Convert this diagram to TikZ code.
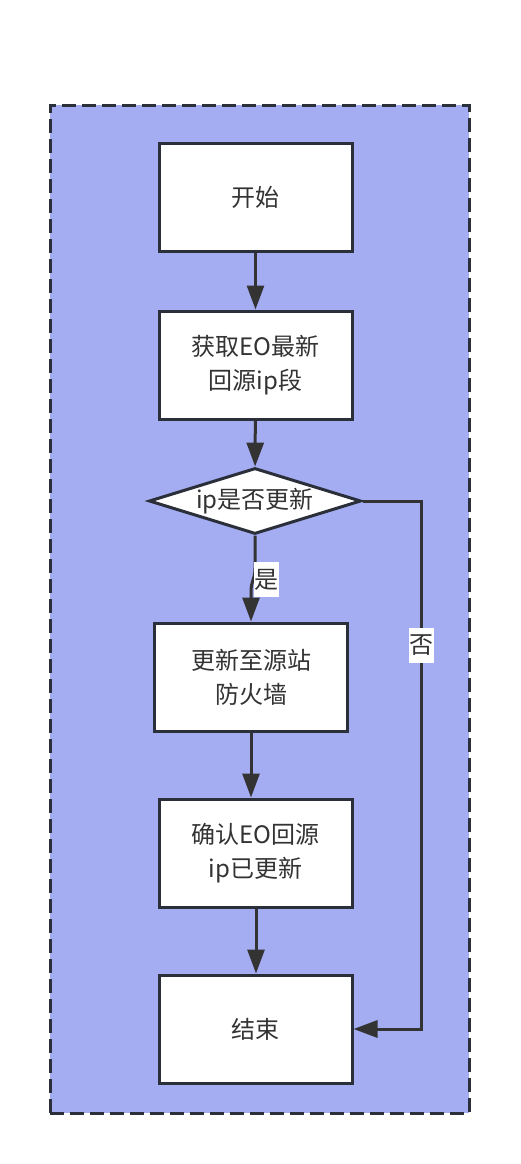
\documentclass[tikz,border=0pt]{standalone}
\usepackage{fontspec}
\setmainfont{Noto Sans CJK SC}
\usetikzlibrary{arrows.meta,shapes.geometric}
\definecolor{clfill}{RGB}{164,173,242}
\definecolor{clline}{RGB}{43,47,58}
\definecolor{ink}{RGB}{51,51,51}
\tikzset{
  stepbox/.style={draw=clline, line width=3pt, fill=white, minimum width=193pt, minimum height=108pt, inner sep=0pt, align=center, text=ink, font=\fontsize{24}{34}\selectfont},
  decbox/.style={diamond, draw=clline, line width=3pt, fill=white, minimum width=212pt, minimum height=66pt, inner sep=0pt},
  flow/.style={draw=ink, line width=3pt, -{Triangle[length=24pt,width=17pt]}},
  edgelabel/.style={fill=white, text=ink, inner sep=0pt, minimum width=25pt, minimum height=35pt, font=\fontsize{24}{34}\selectfont},
}
\begin{document}
\begin{tikzpicture}[x=1pt,y=-1pt]
\useasboundingbox (0,0) rectangle (520,1164);
\node[draw=clline, fill=clfill, line width=3pt, dash pattern=on 14pt off 6pt, minimum width=419pt, minimum height=1008pt, inner sep=0pt] (frame) at (259.5,609) {};
\node[stepbox] (s) at (255.5,197) {开始};
\node[stepbox] (a) at (255.5,365) {获取EO最新\\回源ip段};
\node[decbox, label={[text=ink, font=\fontsize{24}{34}\selectfont]center:ip是否更新}] (d) at (255,501) {};
\node[stepbox] (u) at (251,677) {更新至源站\\防火墙};
\node[stepbox] (c) at (255.5,853) {确认EO回源\\ip已更新};
\node[stepbox] (e) at (255.5,1029) {结束};
\coordinate (b1) at (255,568);
\coordinate (b2) at (251,592);
\coordinate (n1) at (421,501);
\coordinate (n2) at (421,1029);
\draw[flow] (s) -- (a);
\draw[flow] (a) -- (d);
\draw[flow] (d.south) -- (b1) .. controls (255,580) and (251,580) .. (b2) -- (u.north);
\node[edgelabel] (yes) at (266.5,579.5) {是};
\draw[flow] (u.south) -- (u.south |- c.north);
\draw[flow] (c.south -| 256,0) -- (e.north -| 256,0);
\draw[flow] (d.east) -- (n1) -- (n2) -- (e.east);
\node[edgelabel] (no) at (421.5,645) {否};
\end{tikzpicture}
\end{document}
